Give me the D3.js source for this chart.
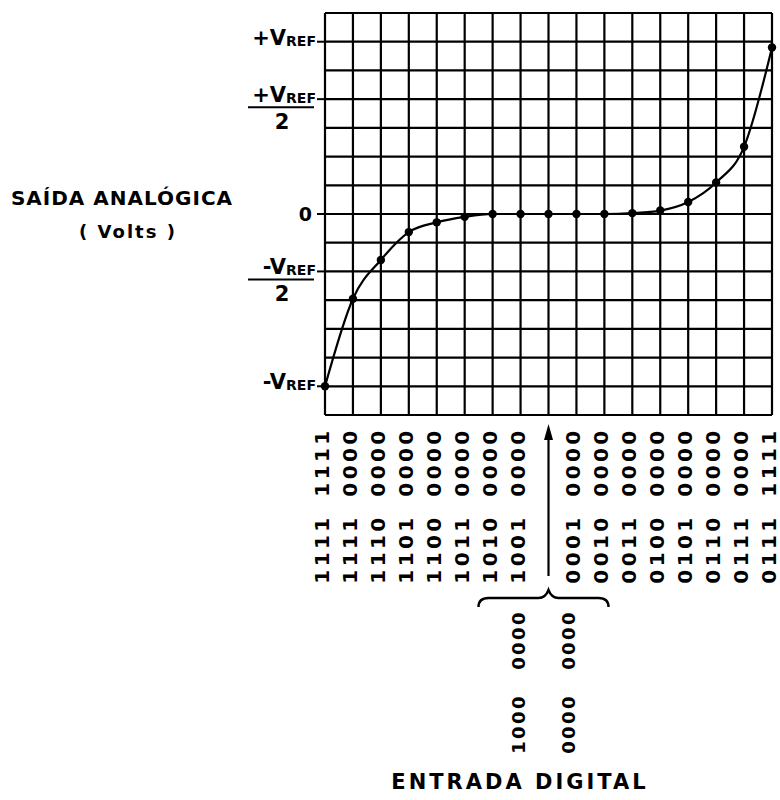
<!DOCTYPE html>
<html>
<head>
<meta charset="utf-8">
<script src="https://cdn.jsdelivr.net/npm/d3@7"></script>
<style>
  body { margin: 0; background: #fff; }
  text { font-family: "DejaVu Sans", sans-serif; font-weight: bold; fill: #000; }
</style>
</head>
<body>
<div id="chart"></div>
<script>
// digital input codes (sign-magnitude), one per vertical grid line
const codes = [
  "1111 1111", "1111 0000", "1110 0000", "1101 0000", "1100 0000",
  "1011 0000", "1010 0000", "1001 0000", "1000 0000", "0001 0000",
  "0010 0000", "0011 0000", "0100 0000", "0101 0000", "0110 0000",
  "0111 0000", "0111 1111"
];
// analog output, in grid divisions (VREF = 6 divisions)
const output = [-6, -2.95, -1.6, -0.63, -0.29, -0.1, 0, 0, 0, 0, 0, 0.03, 0.12, 0.42, 1.1, 2.34, 5.8];
// the two codes that both give 0 V
const zeroCodes = ["1000 0000", "0000 0000"];
// y tick labels
const yTickVals = [6, 4, 0, -2, -6];
const yTickLabels = ["+V|REF", "+V|REF|2", "0", "-V|REF|2", "-V|REF"];

const W = 780, H = 800;
const svg = d3.select("#chart").append("svg")
  .attr("width", W).attr("height", H);

const x = d3.scalePoint().domain(d3.range(codes.length)).range([325, 772]);
const y = d3.scaleLinear().domain([-7, 7]).range([415, 13]);

// grid
const grid = svg.append("g").attr("stroke", "#000").attr("stroke-width", 2.2);
grid.selectAll(".h").data(d3.range(-7, 8)).enter().append("line")
  .attr("x1", x(0)).attr("x2", x(codes.length - 1))
  .attr("y1", d => y(d)).attr("y2", d => y(d));
grid.selectAll(".v").data(d3.range(codes.length)).enter().append("line")
  .attr("x1", d => x(d)).attr("x2", d => x(d))
  .attr("y1", y(7)).attr("y2", y(-7));

// y labels
yTickVals.forEach((v, i) => {
  const parts = yTickLabels[i].split("|");
  const yy = y(v);
  svg.append("line").attr("x1", 317).attr("x2", 325)
    .attr("y1", yy).attr("y2", yy).attr("stroke", "#000").attr("stroke-width", 2);
  if (parts.length === 1) {
    svg.append("text").attr("x", 312).attr("y", yy + 7)
      .attr("text-anchor", "end").style("font-size", "19px").text(parts[0]);
    return;
  }
  const t = svg.append("text").attr("x", 316).attr("y", yy + 3).attr("text-anchor", "end");
  t.append("tspan").style("font-size", "21px").text(parts[0]);
  t.append("tspan").style("font-size", "14px").attr("dy", 1).text(parts[1]);
  if (parts.length === 3) {
    svg.append("line").attr("x1", 248).attr("x2", 314)
      .attr("y1", yy + 8).attr("y2", yy + 8).attr("stroke", "#000").attr("stroke-width", 2);
    svg.append("text").attr("x", 282).attr("y", yy + 30)
      .attr("text-anchor", "middle").style("font-size", "21px").text(parts[2]);
  }
});

// curve and points
const line = d3.line().x((d, i) => x(i)).y(d => y(d)).curve(d3.curveMonotoneX);
svg.append("path").datum(output).attr("d", line)
  .attr("fill", "none").attr("stroke", "#000").attr("stroke-width", 2.2);
svg.selectAll(".pt").data(output).enter().append("circle")
  .attr("cx", (d, i) => x(i)).attr("cy", d => y(d)).attr("r", 4.2).attr("fill", "#000");

// x labels, rotated, first nibble at the bottom
codes.forEach((c, i) => {
  if (c === zeroCodes[0]) return;
  const [a, b] = c.split(" ");
  [[a, 549], [b, 462]].forEach(([s, cy]) => {
    svg.append("text")
      .attr("transform", `translate(${x(i) + 4},${cy}) rotate(-90)`)
      .attr("text-anchor", "middle")
      .style("font-size", "20px").style("letter-spacing", "3.4px")
      .text(s);
  });
});

// arrow for the zero codes
const xm = x(codes.indexOf(zeroCodes[0]));
svg.append("line").attr("x1", xm).attr("x2", xm).attr("y1", 576).attr("y2", 436)
  .attr("stroke", "#000").attr("stroke-width", 2.2);
svg.append("path").attr("d", `M${xm},424 L${xm - 4.5},440 L${xm + 4.5},440 Z`).attr("fill", "#000");

// brace
svg.append("path")
  .attr("d", `M${xm - 70},607 Q${xm - 70},598 ${xm - 60},598 L${xm - 10},598 Q${xm - 3},598 ${xm},590 Q${xm + 3},598 ${xm + 10},598 L${xm + 50},598 Q${xm + 60},598 ${xm + 60},607`)
  .attr("fill", "none").attr("stroke", "#000").attr("stroke-width", 2.4);

zeroCodes.forEach((c, j) => {
  const [a, b] = c.split(" ");
  const cx = xm - 24 + j * 50;
  [[a, 724], [b, 640]].forEach(([s, cy]) => {
    svg.append("text")
      .attr("transform", `translate(${cx},${cy}) rotate(-90)`)
      .attr("text-anchor", "middle")
      .style("font-size", "18px").style("letter-spacing", "2.4px")
      .text(s);
  });
});

// axis titles
svg.append("text").attr("x", 122).attr("y", 205).attr("text-anchor", "middle")
  .style("font-size", "20px").style("letter-spacing", "1px").text("SAÍDA ANALÓGICA");
svg.append("text").attr("x", 128).attr("y", 238).attr("text-anchor", "middle")
  .style("font-size", "18px").style("letter-spacing", "2px").text("( Volts )");
svg.append("text").attr("x", 520).attr("y", 789).attr("text-anchor", "middle")
  .style("font-size", "21px").style("letter-spacing", "3px").text("ENTRADA  DIGITAL");
</script>
</body>
</html>
